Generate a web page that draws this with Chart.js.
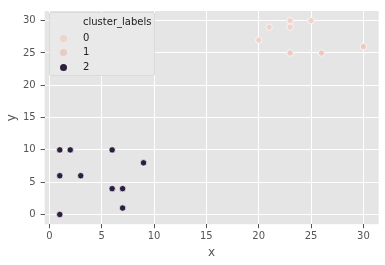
<!DOCTYPE html>
<html>
<head>
<meta charset="utf-8">
<script src="https://cdn.jsdelivr.net/npm/chart.js@4"></script>
<style>
  body { margin: 0; background: #fff; }
  #wrap { position: relative; width: 385px; height: 265px; }
  #legend {
    position: absolute; left: 49px; top: 12px; width: 104px; height: 62px;
    background: rgba(233, 233, 233, 0.95); border: 1px solid #dadada; border-radius: 2px;
    font-family: "DejaVu Sans", sans-serif; font-size: 10px; color: #222;
  }
  #legend .title { position: absolute; left: 33px; top: 3px; }
  #legend .row { position: absolute; left: 0; height: 12px; line-height: 12px; }
  #legend .dot { position: absolute; left: 10px; top: 2.5px; width: 7px; height: 7px; border-radius: 50%; }
  #legend .lab { position: absolute; left: 33px; top: 0; }
</style>
</head>
<body>
<div id="wrap">
  <canvas id="chart" width="385" height="265"></canvas>
  <div id="legend"></div>
</div>
<script>
// cluster scatter (x, y)
const clusterNames = ["0", "1", "2"];
const clusterColors = ["#efd3cc", "#ebcac2", "#2d1e3e"];

const cluster0 = [
  { x: 20, y: 27 }, { x: 21, y: 29 }, { x: 23, y: 30 }, { x: 23, y: 29 }, { x: 25, y: 30 }
];
const cluster1 = [
  { x: 23, y: 25 }, { x: 26, y: 25 }, { x: 30, y: 26 }
];
const cluster2 = [
  { x: 1, y: 10 }, { x: 2, y: 10 }, { x: 6, y: 10 }, { x: 9, y: 8 }, { x: 1, y: 6 },
  { x: 3, y: 6 }, { x: 6, y: 4 }, { x: 7, y: 4 }, { x: 7, y: 1 }, { x: 1, y: 0 }
];

const xTicks = [0, 5, 10, 15, 20, 25, 30];
const yTicks = [0, 5, 10, 15, 20, 25, 30];

const clusters = [cluster0, cluster1, cluster2];

const tickFont = { family: "DejaVu Sans", size: 10 };
const textGrey = "#555555";

const plotBg = {
  id: "plotBg",
  beforeDraw(chart) {
    const { ctx, chartArea: a } = chart;
    ctx.save();
    ctx.fillStyle = "#e5e5e5";
    ctx.fillRect(a.left, a.top, a.right - a.left, a.bottom - a.top);
    ctx.restore();
  }
};

new Chart(document.getElementById("chart"), {
  type: "scatter",
  data: {
    datasets: clusters.map((pts, i) => ({
      label: clusterNames[i],
      data: pts,
      backgroundColor: clusterColors[i],
      borderColor: "#ffffff",
      borderWidth: 0.7,
      pointRadius: 3.2,
      pointHoverRadius: 3.2
    }))
  },
  options: {
    responsive: false,
    animation: false,
    layout: { padding: { top: 6, right: 6.4, left: 0, bottom: 0 } },
    plugins: { legend: { display: false }, tooltip: { enabled: false } },
    scales: {
      x: {
        type: "linear",
        min: -0.45,
        max: 31.45,
        afterBuildTicks: s => { s.ticks = xTicks.map(v => ({ value: v })); },
        afterFit: s => { s.height = 40.8; },
        grid: { color: "#ffffff", lineWidth: 1, tickColor: textGrey, tickLength: 4 },
        border: { display: false },
        ticks: { font: tickFont, color: textGrey, padding: 2, maxRotation: 0 },
        title: { display: true, text: "x", color: textGrey, font: { family: "DejaVu Sans", size: 12 }, padding: { bottom: 5 } }
      },
      y: {
        type: "linear",
        min: -1.5,
        max: 31.5,
        afterBuildTicks: s => { s.ticks = yTicks.map(v => ({ value: v })); },
        afterFit: s => { s.width = 44.6; },
        grid: { color: "#ffffff", lineWidth: 1, tickColor: textGrey, tickLength: 4 },
        border: { display: false },
        ticks: { font: tickFont, color: textGrey, padding: 5 },
        title: { display: true, text: "y", color: textGrey, font: { family: "DejaVu Sans", size: 12 }, padding: { top: 5 } }
      }
    }
  },
  plugins: [plotBg]
});

// legend box (top-left inside the plot)
const legend = document.getElementById("legend");
let html = '<div class="title">cluster_labels</div>';
const rowTops = [19, 33, 48];
clusterNames.forEach((name, i) => {
  html += `<div class="row" style="top:${rowTops[i]}px;width:100px">` +
    `<span class="dot" style="background:${clusterColors[i]}"></span>` +
    `<span class="lab">${name}</span></div>`;
});
legend.innerHTML = html;
</script>
</body>
</html>
